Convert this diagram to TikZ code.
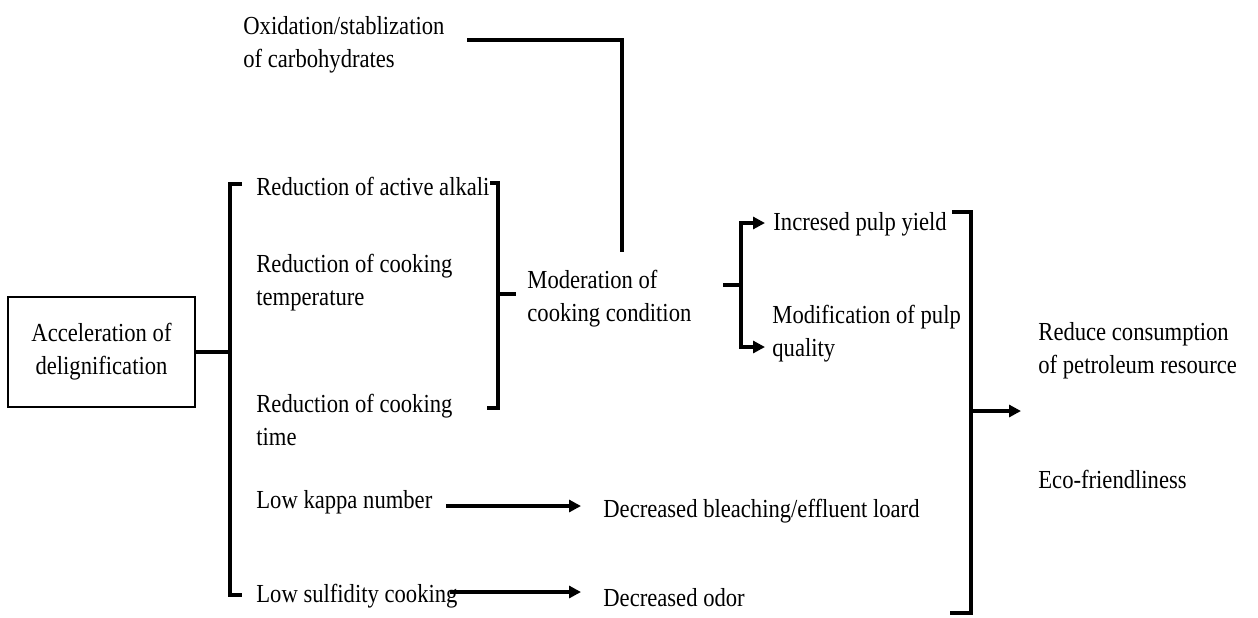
\documentclass[tikz,border=0pt]{standalone}
\usepackage{fontspec}
\setmainfont[FakeStretch=0.87]{Liberation Serif}
\usetikzlibrary{arrows.meta}
\newcommand{\twoline}[2]{\begin{tabular}[t]{@{}l@{}}#1\\#2\end{tabular}}
\tikzset{
  txt/.style={anchor=base west, inner sep=0pt, font=\fontsize{13}{16.5}\selectfont},
  ln/.style={line width=1.6pt},
  arr/.style={line width=1.6pt, -{Triangle[length=6pt,width=6pt]}},
  boxed/.style={draw, line width=1pt, align=center, minimum width=93.5pt,
    minimum height=55pt, font=\fontsize{13}{16.5}\selectfont}
}
\begin{document}
\begin{tikzpicture}[x=0.5pt, y=-0.5pt]
\useasboundingbox (0,0) rectangle (1258,617);
\renewcommand{\arraystretch}{1}

% source box
\node[boxed] (acc) at (101.5,352) {Acceleration of\\delignification};

% texts
\node[txt] (oxi) at (243,34) {\twoline{Oxidation/stablization}{of carbohydrates}};
\node[txt] (ra)  at (256,195) {Reduction of active alkali};
\node[txt] (rt)  at (256,272) {\twoline{Reduction of cooking}{temperature}};
\node[txt] (rti) at (256,412) {\twoline{Reduction of cooking}{time}};
\node[txt] (lk)  at (256,508) {Low kappa number};
\node[txt] (ls)  at (256,602) {Low sulfidity cooking};
\node[txt] (mod) at (527,288) {\twoline{Moderation of}{cooking condition}};
\node[txt] (iy)  at (773,230) {Incresed pulp yield};
\node[txt] (mq)  at (772,323) {\twoline{Modification of pulp}{quality}};
\node[txt] (rc)  at (1038,340) {\twoline{Reduce consumption}{of petroleum resource}};
\node[txt] (eco) at (1038,488) {Eco-friendliness};
\node[txt] (dbl) at (603,517) {Decreased bleaching/effluent loard};
\node[txt] (dod) at (603,606) {Decreased odor};

% bracket and connector points
\coordinate (lbT) at (242,184);
\coordinate (lbB) at (242,595);
\coordinate (lbM) at (230,352);
\coordinate (rbT) at (490,183);
\coordinate (rbB) at (487,408);
\coordinate (rbM) at (498,294);
\coordinate (modIn) at (516,294);
\coordinate (oxS) at (467,40);
\coordinate (oxE) at (622,252);
\coordinate (modOut) at (723,285);
\coordinate (sp) at (741,285);
\coordinate (iyIn) at (765,223);
\coordinate (mqIn) at (765,347);
\coordinate (bbT) at (952,212);
\coordinate (bbB) at (950,613);
\coordinate (bbM) at (971,411);
\coordinate (outTip) at (1021,411);
\coordinate (lkS) at (446,506);
\coordinate (lkE) at (581,506);
\coordinate (lsS) at (450,592);
\coordinate (lsE) at (581,592);

% left bracket from the source box
\draw[ln] (acc.east) -- (lbM);
\draw[ln] (lbT) -- (lbT -| lbM) -- (lbB -| lbM) -- (lbB);

% bracket joining the three reductions
\draw[ln] (rbT) -- (rbT -| rbM) -- (rbB -| rbM) -- (rbB);
\draw[ln] (rbM) -- (modIn);

% carbohydrate stabilisation feeding into the moderation
\draw[ln] (oxS) -- (oxS -| oxE) -- (oxE);

% moderation splitting into yield and quality
\draw[ln] (modOut) -- (sp);
\draw[arr] (sp) |- (iyIn);
\draw[arr] (sp) |- (mqIn);

% collecting bracket on the right
\draw[ln] (bbT) -- (bbT -| bbM) -- (bbB -| bbM) -- (bbB);
\draw[arr] (bbM) -- (outTip);

% direct effects
\draw[arr] (lkS) -- (lkE);
\draw[arr] (lsS) -- (lsE);
\end{tikzpicture}
\end{document}
